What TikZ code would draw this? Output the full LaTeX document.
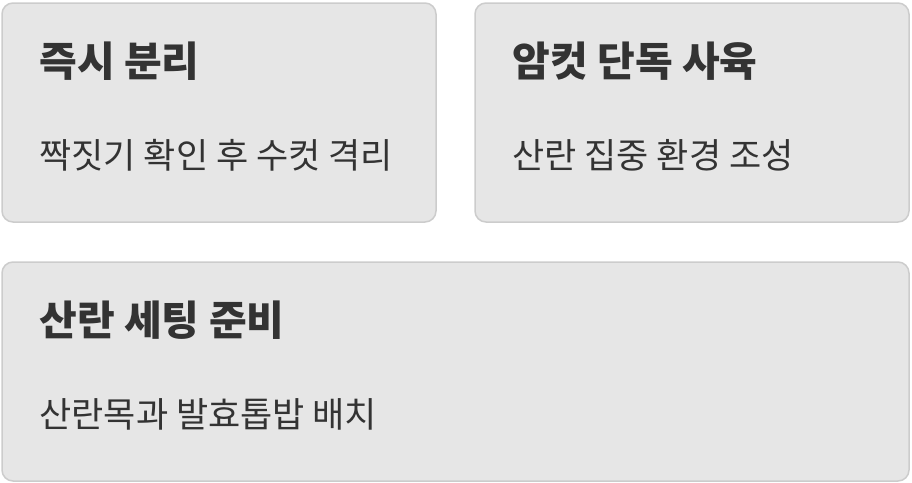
\documentclass[tikz,border=0pt]{standalone}
\usepackage{fontspec}
\newfontfamily\krfont{Noto Sans CJK KR}
\newfontfamily\krblack{Noto Sans CJK KR Black}
\usetikzlibrary{positioning}

\definecolor{panelFill}{HTML}{E6E6E6}
\definecolor{panelLine}{HTML}{CCCCCC}
\definecolor{inkText}{HTML}{333333}

\newcommand{\panelTop}{59pt}
\newcommand{\bodyTop}{153pt}
\newcommand{\textLeft}{38pt}

\tikzset{
  panel/.style={draw=panelLine, fill=panelFill, line width=1.5pt, rounded corners=11pt, minimum height=219pt, inner sep=0pt},
  heading/.style={anchor=west, inner sep=0pt, text=inkText, font=\krblack\fontsize{41pt}{46pt}\selectfont},
  bodytext/.style={anchor=west, inner sep=0pt, text=inkText, font=\krfont\fontsize{35pt}{40pt}\selectfont}
}

\begin{document}
\begin{tikzpicture}
        \useasboundingbox (0pt,0pt) rectangle (912pt,-482pt);

        % Panels
        \node[panel, minimum width=434pt] (separate) at (219pt,-112.5pt) {};
        \node[panel, minimum width=434pt] (solo) at (692pt,-112.5pt) {};
        \node[panel, minimum width=907pt] (setup) at (455.5pt,-371.5pt) {};

        % Headings
        \node[heading] (separateTitle) at ([shift={(\textLeft,-\panelTop)}]separate.north west) {즉시 분리};
        \node[heading] (soloTitle) at ([shift={(\textLeft,-\panelTop)}]solo.north west) {암컷 단독 사육};
        \node[heading] (setupTitle) at ([shift={(\textLeft,-\panelTop)}]setup.north west) {산란 세팅 준비};

        % Details
        \node[bodytext] (separateBody) at ([shift={(\textLeft,-\bodyTop)}]separate.north west) {짝짓기 확인 후 수컷 격리};
        \node[bodytext] (soloBody) at ([shift={(\textLeft,-\bodyTop)}]solo.north west) {산란 집중 환경 조성};
        \node[bodytext] (setupBody) at ([shift={(\textLeft,-\bodyTop)}]setup.north west) {산란목과 발효톱밥 배치};
\end{tikzpicture}
\end{document}
